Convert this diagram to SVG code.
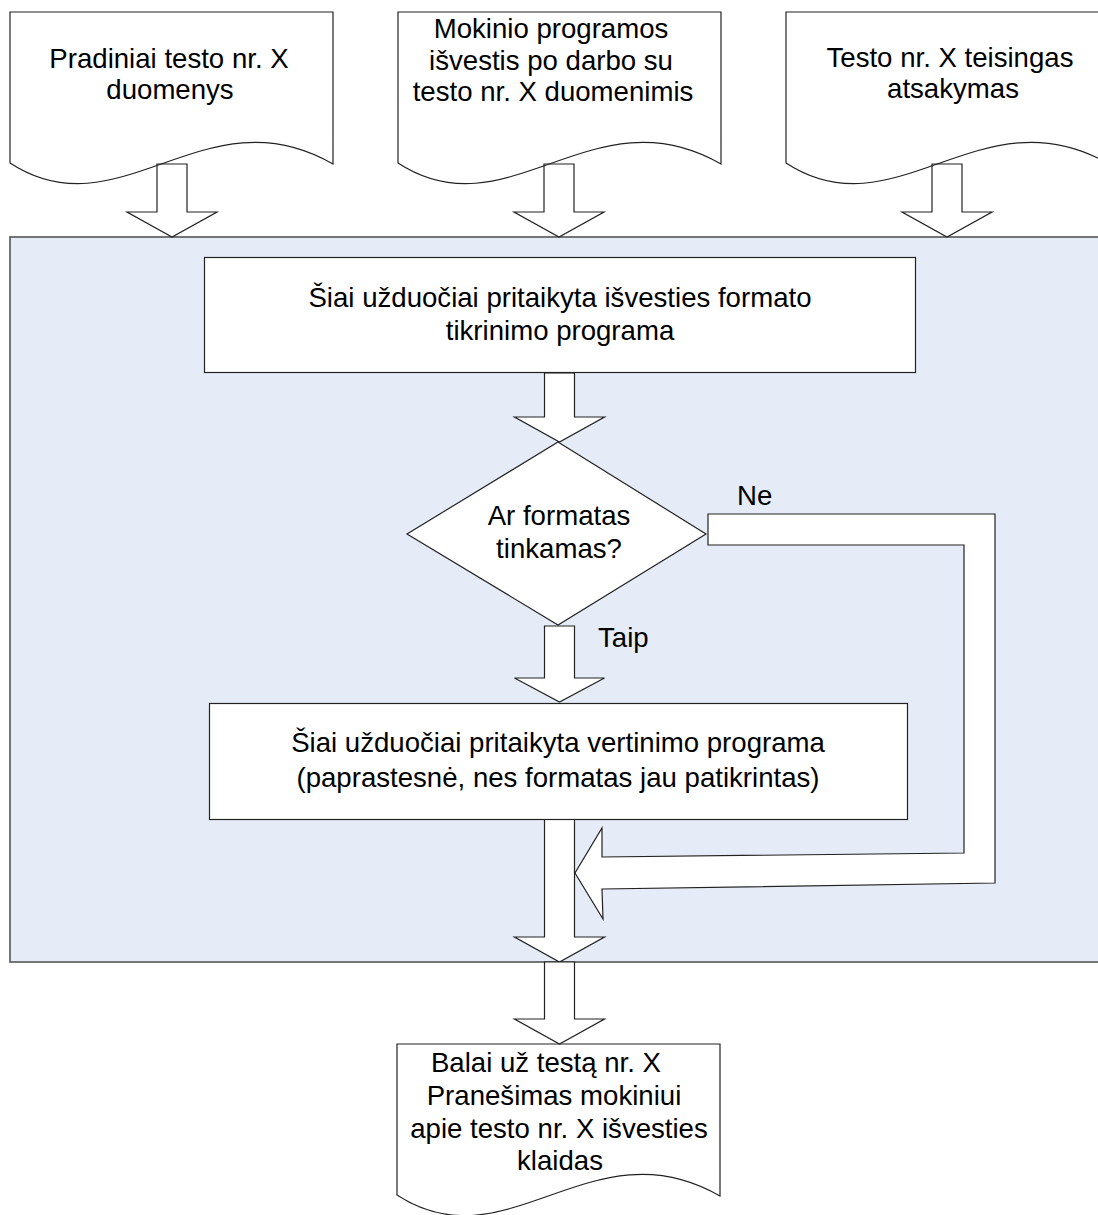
<svg xmlns="http://www.w3.org/2000/svg" width="1098" height="1215" viewBox="0 0 1098 1215">
<style>
text{font-family:"Liberation Sans",Arial,sans-serif;font-size:27.6px;fill:#000;text-anchor:middle}
.lbl{text-anchor:start}
.shape{fill:#fff;stroke:#222;stroke-width:1.2}
.doc{fill:none;stroke:#222;stroke-width:1.2}
.arrow{fill:#fff;stroke:#222;stroke-width:1.2;stroke-linejoin:miter}
.panel{fill:#E6ECF7;stroke:#555;stroke-width:1.6}
</style>
<defs>
<path id="docshape" d="M0,0 H323 V152 C195,78 110,223 0,151 Z"/>
</defs>
<rect x="0" y="0" width="1098" height="1215" fill="#fff"/>
<g id="panel"><rect class="panel" x="10" y="237" width="1100" height="725"/></g>
<g id="connectors">
<polygon class="arrow" points="157,164 187,164 187,212 217,212 172,237 127,212 157,212"/>
<polygon class="arrow" points="544,164 574,164 574,212 604,212 559,237 514,212 544,212"/>
<polygon class="arrow" points="932,164 962,164 962,212 992,212 947,237 902,212 932,212"/>
<polygon class="arrow" points="544.5,373 574.5,373 574.5,417 604.5,417 559.5,442 514.5,417 544.5,417"/>
<polygon class="arrow" points="544.5,626 574.5,626 574.5,678 604.5,678 559.5,702 514.5,678 544.5,678"/>
<polygon class="arrow" points="544.5,819 574.5,819 574.5,937 604.5,937 559.5,962 514.5,937 544.5,937"/>
<polygon class="arrow" points="544.5,962 574.5,962 574.5,1019 604.5,1019 559.5,1044 514.5,1019 544.5,1019"/>
<polygon class="arrow" points="708,514 995,514 995,883 602,889 603,919 575,873 602,828 602,857 964,853 964,545 708,545"/>
<text class="lbl" x="598" y="647">Taip</text>
<text class="lbl" x="737" y="505">Ne</text>
</g>
<g id="doc1">
<use href="#docshape" class="doc" x="10" y="12"/>
<text x="169" y="68">Pradiniai testo nr. X</text>
<text x="170" y="99">duomenys</text>
</g>
<g id="doc2">
<use href="#docshape" class="doc" x="398" y="12"/>
<text x="551" y="38">Mokinio programos</text>
<text x="551" y="70">išvestis po darbo su</text>
<text x="553" y="101">testo nr. X duomenimis</text>
</g>
<g id="doc3">
<use href="#docshape" class="doc" x="786" y="12"/>
<text x="950" y="67">Testo nr. X teisingas</text>
<text x="953" y="98">atsakymas</text>
</g>
<g id="box1">
<rect class="shape" x="204.5" y="257.5" width="711" height="115"/>
<text x="560" y="307">Šiai užduočiai pritaikyta išvesties formato</text>
<text x="560" y="340">tikrinimo programa</text>
</g>
<g id="decision">
<polygon class="shape" points="558,442 706,534 558,625 407,534"/>
<text x="559" y="525">Ar formatas</text>
<text x="559" y="558">tinkamas?</text>
</g>
<g id="box2">
<rect class="shape" x="209.5" y="703.5" width="698" height="116"/>
<text x="558" y="752">Šiai užduočiai pritaikyta vertinimo programa</text>
<text x="558" y="787">(paprastesnė, nes formatas jau patikrintas)</text>
</g>
<g id="doc4">
<use href="#docshape" class="doc" x="397" y="1044"/>
<text x="546" y="1072">Balai už testą nr. X</text>
<text x="554" y="1105">Pranešimas mokiniui</text>
<text x="559" y="1138">apie testo nr. X išvesties</text>
<text x="560" y="1170">klaidas</text>
</g>
</svg>
